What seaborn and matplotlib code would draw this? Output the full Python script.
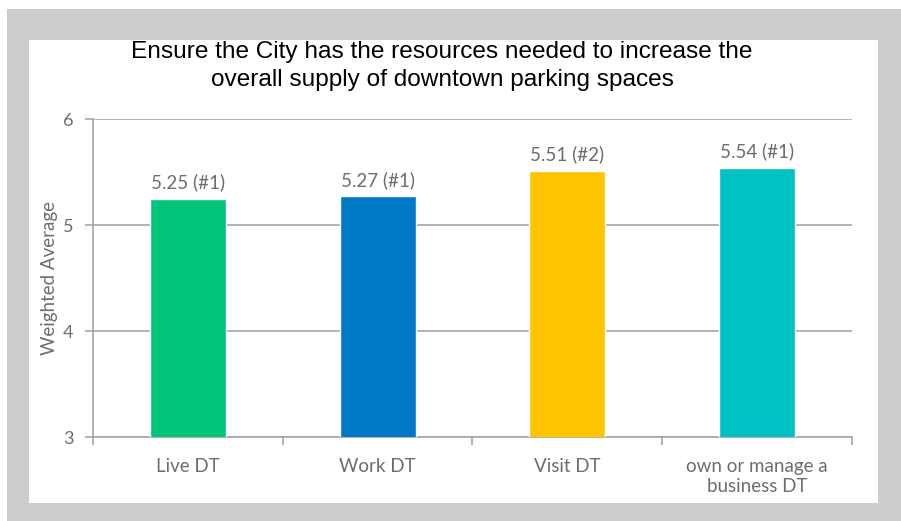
import matplotlib
matplotlib.use("Agg")
import matplotlib.pyplot as plt
import seaborn as sns
import pandas as pd
from matplotlib.patches import Rectangle

# data
groups = ["Live DT", "Work DT", "Visit DT", "own or manage a\nbusiness DT"]
averages = [5.25, 5.27, 5.51, 5.54]
ranks = ["#1", "#1", "#2", "#1"]
colors = ["#00c57a", "#0079c6", "#ffc300", "#00c1c3"]
y_ticks = [3, 4, 5, 6]

df = pd.DataFrame({"group": groups, "avg": averages})

sns.set_style("white")
plt.rcParams["font.family"] = ["Lato", "DejaVu Sans"]

fig = plt.figure(figsize=(9.01, 5.21), dpi=100)
W, H = 901, 521
# gray frame + white panel
fig.patches.append(Rectangle((7 / W, 0), 1 - 7 / W, 1 - 9 / H, transform=fig.transFigure,
                             facecolor="#cdcbcc", edgecolor="none", zorder=-2))
fig.patches.append(Rectangle((29 / W, 1 - 503 / H), (878 - 29) / W, (503 - 40) / H,
                             transform=fig.transFigure, facecolor="white", edgecolor="none", zorder=-1))

ax = fig.add_axes([93 / W, 1 - 437 / H, (852 - 93) / W, (437 - 119) / H])
ax.set_facecolor("none")
sns.barplot(data=df, x="group", y="avg", hue="group", palette=colors, legend=False,
            width=0.4, saturation=1, ax=ax, zorder=3)

ax.set_ylim(3, 6)
ax.set_xlim(-0.5, 3.5)
ax.set_yticks(y_ticks)
ax.yaxis.grid(True, color="#a6a6a6", linewidth=1.2)
ax.set_axisbelow(True)

for i, (v, r) in enumerate(zip(averages, ranks)):
    ax.text(i, v + 0.07, f"{v:.2f} ({r})", ha="center", va="bottom",
            fontsize=13.5, color="#6d6d6d", zorder=4)

for s in ["top", "right"]:
    ax.spines[s].set_visible(False)
for s in ["left", "bottom"]:
    ax.spines[s].set_color("#a6a6a6")
    ax.spines[s].set_linewidth(1.2)

ax.set_xticks([-0.5, 0.5, 1.5, 2.5, 3.5], minor=True)
ax.tick_params(axis="x", which="minor", length=6, color="#a6a6a6", width=1.2, direction="out", bottom=True)
ax.tick_params(axis="x", which="major", length=0, pad=15, labelsize=13.5, labelcolor="#6d6d6d")
for lab in ax.get_xticklabels():
    lab.set_linespacing(1.2)
ax.tick_params(axis="y", length=6, color="#a6a6a6", width=1.2, direction="out", left=True,
               labelsize=13, labelcolor="#6d6d6d", pad=8)

ax.set_xlabel("")
ax.set_ylabel("Weighted Average", fontsize=13.5, color="#6d6d6d", labelpad=4)

fig.text(442 / W, 1 - 66 / H,
         "Ensure the City has the resources needed to increase the\noverall supply of downtown parking spaces",
         ha="center", va="center", fontsize=17.6, family=["Liberation Sans", "DejaVu Sans"],
         color="black", linespacing=1.3)

fig.savefig("out.png", dpi=100)
